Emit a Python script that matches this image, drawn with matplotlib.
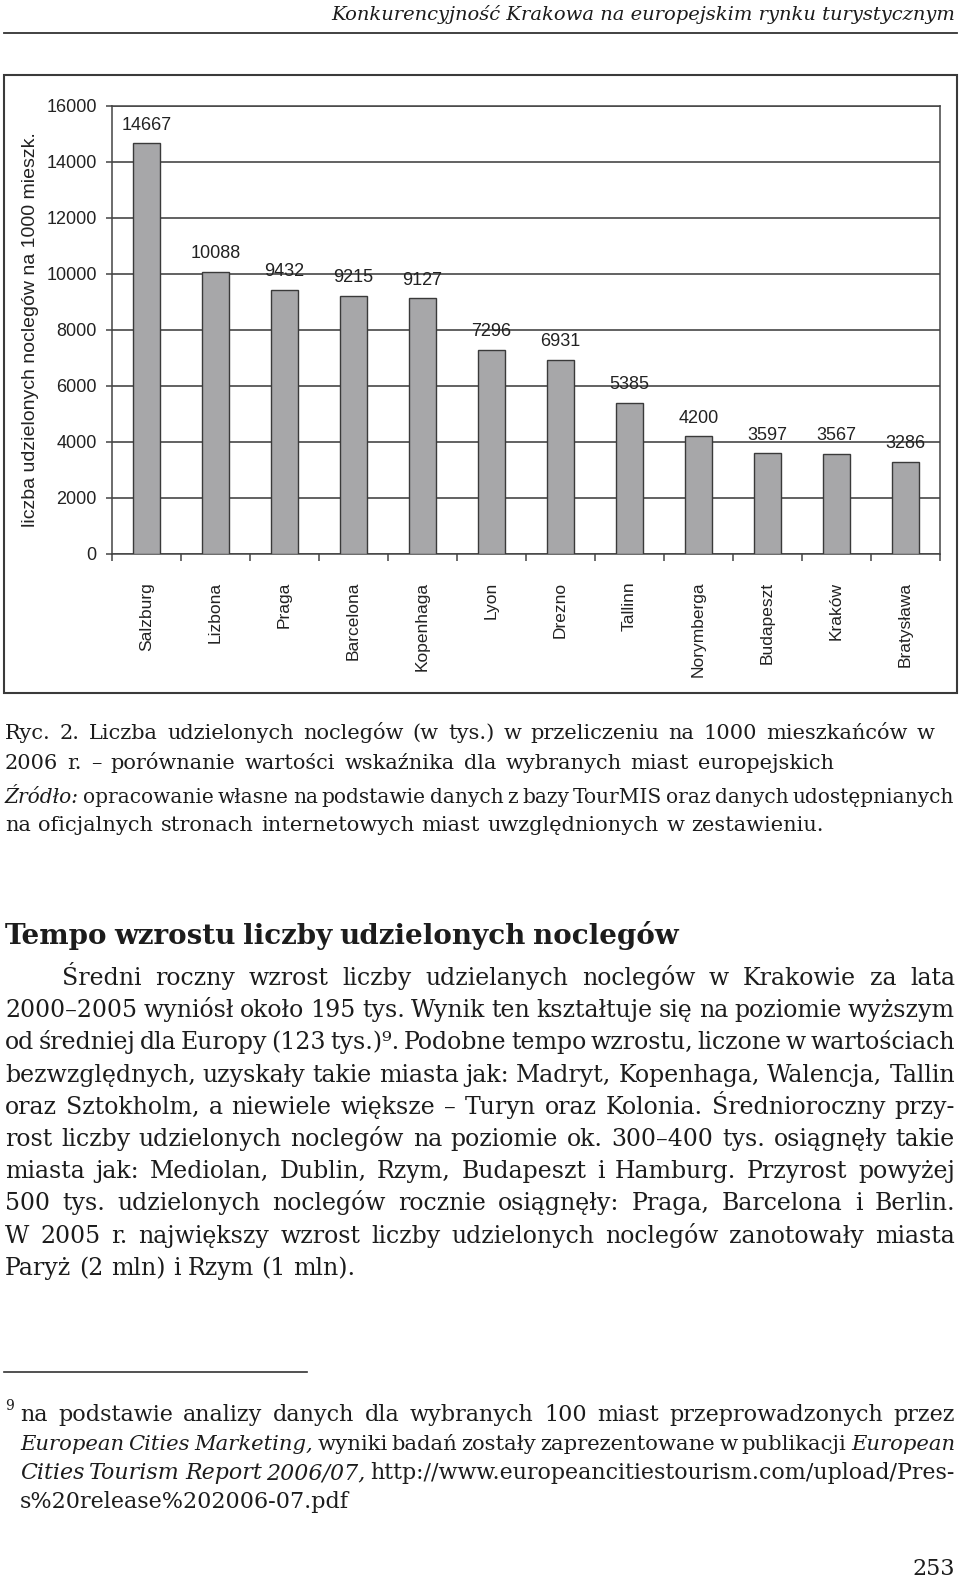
import matplotlib

matplotlib.use("Agg")

import matplotlib.pyplot as plt
import numpy as np
from matplotlib.lines import Line2D
from matplotlib.patches import Rectangle

W, H = 960, 1579

cities = ["Salzburg", "Lizbona", "Praga", "Barcelona", "Kopenhaga", "Lyon",
          "Drezno", "Tallinn", "Norymberga", "Budapeszt", "Kraków", "Bratysława"]
values = [14667, 10088, 9432, 9215, 9127, 7296, 6931, 5385, 4200, 3597, 3567, 3286]
y_ticks = [0, 2000, 4000, 6000, 8000, 10000, 12000, 14000, 16000]
y_label = "liczba udzielonych noclegów na 1000 mieszk."

header = "Konkurencyjność Krakowa na europejskim rynku turystycznym"
caption_lines = [
    "Ryc. 2. Liczba udzielonych noclegów (w tys.) w przeliczeniu na 1000 mieszkańców w",
    "2006 r. – porównanie wartości wskaźnika dla wybranych miast europejskich",
    "*Źródło:* opracowanie własne na podstawie danych z bazy TourMIS oraz danych udostępnianych",
    "na oficjalnych stronach internetowych miast uwzględnionych w zestawieniu.",
]
heading = "Tempo wzrostu liczby udzielonych noclegów"
body_lines = [
    "Średni roczny wzrost liczby udzielanych noclegów w Krakowie za lata",
    "2000–2005 wyniósł około 195 tys. Wynik ten kształtuje się na poziomie wyższym",
    "od średniej dla Europy (123 tys.)⁹. Podobne tempo wzrostu, liczone w wartościach",
    "bezwzględnych, uzyskały takie miasta jak: Madryt, Kopenhaga, Walencja, Tallin",
    "oraz Sztokholm, a niewiele większe – Turyn oraz Kolonia. Średnioroczny przy-",
    "rost liczby udzielonych noclegów na poziomie ok. 300–400 tys. osiągnęły takie",
    "miasta jak: Mediolan, Dublin, Rzym, Budapeszt i Hamburg. Przyrost powyżej",
    "500 tys. udzielonych noclegów rocznie osiągnęły: Praga, Barcelona i Berlin.",
    "W 2005 r. największy wzrost liczby udzielonych noclegów zanotowały miasta",
    "Paryż (2 mln) i Rzym (1 mln).",
]
footnote_mark = "9"
footnote_lines = [
    "na podstawie analizy danych dla wybranych 100 miast przeprowadzonych przez",
    "*European Cities Marketing,* wyniki badań zostały zaprezentowane w publikacji *European*",
    "*Cities Tourism Report 2006/07,* http://www.europeancitiestourism.com/upload/Pres-",
    "s%20release%202006-07.pdf",
]
page_number = "253"

SERIF = ["DejaVu Serif"]
SANS = ["Liberation Sans", "DejaVu Sans"]
INK = "#1c1c1c"


def fx(x):
    return x / W


def fy(y):
    return 1 - y / H


def split_words(line):
    # '*' toggles italic; returns words as lists of (text, italic) parts
    words, cur, italic = [], [], False
    buf = ""
    for ch in line:
        if ch == "*":
            if buf:
                cur.append((buf, italic))
                buf = ""
            italic = not italic
        elif ch == " ":
            if buf:
                cur.append((buf, italic))
                buf = ""
            if cur:
                words.append(cur)
                cur = []
        else:
            buf += ch
    if buf:
        cur.append((buf, italic))
    if cur:
        words.append(cur)
    return words


def space_width(fig, renderer, size, weight):
    a = fig.text(0, 0, "a a", fontsize=size, family=SERIF, weight=weight)
    b = fig.text(0, 0, "aa", fontsize=size, family=SERIF, weight=weight)
    w = a.get_window_extent(renderer).width - b.get_window_extent(renderer).width
    a.remove()
    b.remove()
    return w


def draw_line(fig, renderer, line, x0, y, size, x1=None, weight="normal"):
    words = split_words(line)
    placed = []
    for word in words:
        parts = []
        for text, italic in word:
            t = fig.text(0, fy(y), text, fontsize=size, family=SERIF, color=INK,
                         style="italic" if italic else "normal", weight=weight,
                         ha="left", va="baseline")
            parts.append((t, t.get_window_extent(renderer).width))
        placed.append(parts)
    widths = [sum(w for _, w in parts) for parts in placed]
    space = space_width(fig, renderer, size, weight)
    tightest = sum(widths) + 0.55 * space * (len(words) - 1)
    if x1 is not None and tightest > (x1 - x0):
        # even with squeezed spaces the line is too long: shrink the type a little
        for parts in placed:
            for t, _ in parts:
                t.remove()
        return draw_line(fig, renderer, line, x0, y, size * (x1 - x0) / tightest * 0.997, x1, weight)
    gap = space
    if x1 is not None and len(words) > 1:
        gap = (x1 - x0 - sum(widths)) / (len(words) - 1)
    x = x0
    for parts, wsum in zip(placed, widths):
        px = x
        for t, w in parts:
            t.set_x(fx(px))
            px += w
        x += wsum + gap


fig = plt.figure(figsize=(W / 100, H / 100), dpi=100)
fig.patch.set_facecolor("white")
renderer = fig.canvas.get_renderer()

# page header
fig.text(fx(955), fy(20), header, fontsize=14, family=SERIF, style="italic",
         color=INK, ha="right", va="baseline")
fig.add_artist(Line2D([fx(4), fx(957)], [fy(33), fy(33)], color="#333333", lw=1.3,
                      transform=fig.transFigure))

# chart frame
fig.add_artist(Rectangle((fx(4), fy(693)), (957 - 4) / W, (693 - 75) / H, fill=False,
                         edgecolor="#3a3a3a", lw=1.5, transform=fig.transFigure))

ax = fig.add_axes([fx(112), fy(554), 828 / W, 448 / H])
x = np.arange(len(cities))
ax.bar(x, values, width=0.4, color="#a7a7a9", edgecolor="#3a3a3a", linewidth=1.0, zorder=3)
for i, v in enumerate(values):
    ax.annotate(str(v), (i, v), xytext=(0, 7), textcoords="offset points",
                ha="center", va="bottom", fontsize=13, family=SANS, color="#222222")

ax.set_xlim(-0.5, len(cities) - 0.5)
ax.set_ylim(0, 16000)
ax.set_yticks(y_ticks)
ax.set_yticklabels([str(t) for t in y_ticks], family=SANS, fontsize=13, color="#222222")
ax.yaxis.grid(True, color="#555555", linewidth=1.3)
ax.set_axisbelow(True)
ax.tick_params(axis="y", direction="out", length=4, width=1.1, color="#444444", pad=7)

ax.set_xticks(x)
ax.set_xticklabels(cities, rotation=90, va="top", ha="center", family=SANS,
                   fontsize=12.5, color="#222222")
ax.tick_params(axis="x", which="major", length=0, pad=20)
ax.set_xticks(np.arange(-0.5, len(cities), 1), minor=True)
ax.tick_params(axis="x", which="minor", direction="out", length=5, width=1.1, color="#444444")

ax.set_ylabel(y_label, family=SANS, fontsize=14, color="#222222")
ax.yaxis.set_label_coords(-0.088, 0.5)
for spine in ax.spines.values():
    spine.set_color("#444444")
    spine.set_linewidth(1.1)

# caption under the figure
caption_ends = [935, 834, 954, 824]
caption_base = [739, 769, 803, 831]
for line, end, yb in zip(caption_lines, caption_ends, caption_base):
    draw_line(fig, renderer, line, 5, yb, 15, x1=end)

# section heading
draw_line(fig, renderer, heading, 5, 944, 20, x1=679, weight="bold")

# body paragraph, justified
for k, line in enumerate(body_lines):
    x0 = 62 if k == 0 else 5
    x1 = 955 if k < len(body_lines) - 1 else None
    draw_line(fig, renderer, line, x0, 985 + k * 32.2, 17, x1=x1)

# footnote
fig.add_artist(Line2D([fx(4), fx(307)], [fy(1372), fy(1372)], color="#333333", lw=1.2,
                      transform=fig.transFigure))
fig.text(fx(5), fy(1410), footnote_mark, fontsize=10, family=SERIF, color=INK,
         ha="left", va="baseline")
for k, line in enumerate(footnote_lines):
    x1 = 955 if k < len(footnote_lines) - 1 else None
    draw_line(fig, renderer, line, 20, 1421 + k * 29, 16, x1=x1)

fig.text(fx(955), fy(1575), page_number, fontsize=16, family=SERIF, color=INK,
         ha="right", va="baseline")

fig.savefig("out.png", dpi=100, facecolor="white")
